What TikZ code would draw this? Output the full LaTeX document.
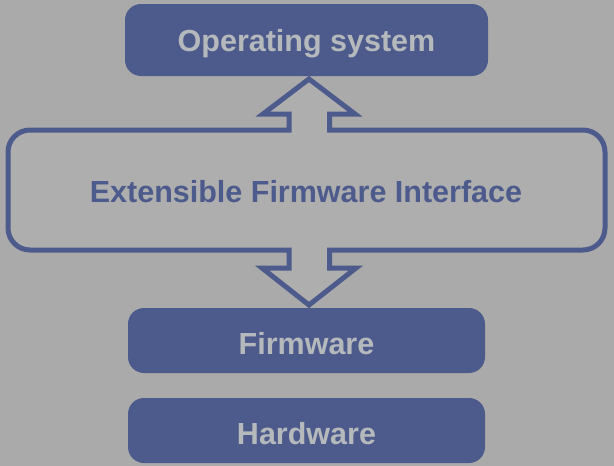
\documentclass[tikz,border=0pt]{standalone}
\usepackage{fontspec}
\setmainfont{Liberation Sans}
\definecolor{bggray}{RGB}{170,170,170}
\definecolor{efifill}{RGB}{174,174,174}
\definecolor{boxblue}{RGB}{77,91,140}
\definecolor{lighttext}{RGB}{182,185,188}
\tikzset{
  layerbox/.style={fill=boxblue, draw=none, rounded corners=16pt, inner sep=0pt,
    text=lighttext, font=\fontsize{30.5}{36}\selectfont\bfseries,
    text height=27pt, text depth=0pt},
  efishape/.style={draw=boxblue, fill=efifill, line width=5pt, line join=miter, miter limit=10},
  efitext/.style={text=boxblue, font=\fontsize{30.5}{36}\selectfont\bfseries,
    inner sep=0pt, text height=21pt, text depth=0pt}
}
\begin{document}
\begin{tikzpicture}[x=1pt,y=-1pt]
\useasboundingbox[fill=bggray] (0,0) rectangle (614,466);
% EFI outline with double arrow
\draw[efishape] (309,79) -- (355,114) -- (329.5,114) -- (329.5,130) -- (583,130)
  arc(270:360:22) -- (605,228) arc(0:90:22) -- (329.5,250) -- (329.5,268)
  -- (356,268) -- (309,305) -- (262,268) -- (289,268) -- (289,250) -- (30,250)
  arc(90:180:22) -- (8,152) arc(180:270:22) -- (289,130) -- (289,114)
  -- (263,114) -- cycle;
\node[efitext] (efi) at (306,191.5) {Extensible Firmware Interface};
\node[layerbox, text height=22pt, minimum width=363pt, minimum height=72pt] (os) at (306.5,40) {Operating system};
\node[layerbox, minimum width=357pt, minimum height=65pt] (fw) at (306.5,340.5) {Firmware};
\node[layerbox, minimum width=357pt, minimum height=65pt] (hw) at (306.5,430.5) {Hardware};
\end{tikzpicture}
\end{document}
